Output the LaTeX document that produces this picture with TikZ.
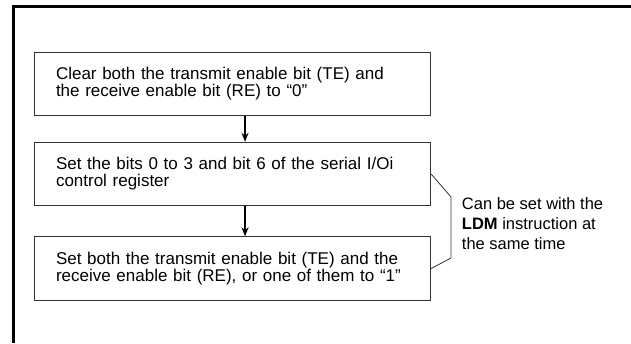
\documentclass[tikz,border=0pt]{standalone}
\usepackage{fontspec}
\setmainfont{Liberation Sans}
\usetikzlibrary{arrows.meta}
\definecolor{FrameLine}{HTML}{000000}
\definecolor{BoxLine}{HTML}{333333}

\begin{document}
\begin{tikzpicture}[x=1pt, y=-1pt,
  stepbox/.style={draw=BoxLine, line width=0.9pt, minimum width=396.7pt, minimum height=63.5pt,
    text width=352.7pt, inner xsep=22pt, align=left, font=\fontsize{17}{17}\selectfont},
  flow/.style={-{Stealth[length=9pt, width=7pt]}, line width=1.6pt},
  note/.style={anchor=west, align=left, font=\fontsize{16.5}{20}\selectfont}]
  \useasboundingbox (0,0) rectangle (631,343);

  % Frame
  \draw[FrameLine, line width=3pt] (13,343) -- (13,6.5) -- (631,6.5);

  % Steps
  \node[stepbox] (clear) at (232.35,84) {Clear both the transmit enable bit (TE) and\\the receive enable bit (RE) to “0”};
  \node[stepbox] (setreg) at (232.35,174) {Set the bits 0 to 3 and bit 6 of the serial I/Oi\\control register};
  \node[stepbox] (setbit) at (232.35,268.5) {Set both the transmit enable bit (TE) and the\\receive enable bit (RE), or one of them to “1”};

  % Arrows
  \draw[flow] ([xshift=12.7pt]clear.south) -- ([xshift=12.7pt]setreg.north);
  \draw[flow] ([xshift=12.7pt]setreg.south) -- ([xshift=12.7pt]setbit.north);

  % Bracket and note
  \coordinate (brtop) at (451,197);
  \coordinate (brbot) at (451,258);
  \draw[BoxLine, line width=0.8pt] (setreg.east) -- (brtop) -- (brbot) -- (setbit.east);
  \node[note] (ldm) at (458.4,224) {Can be set with the\\\textbf{LDM} instruction at\\the same time};
\end{tikzpicture}
\end{document}
